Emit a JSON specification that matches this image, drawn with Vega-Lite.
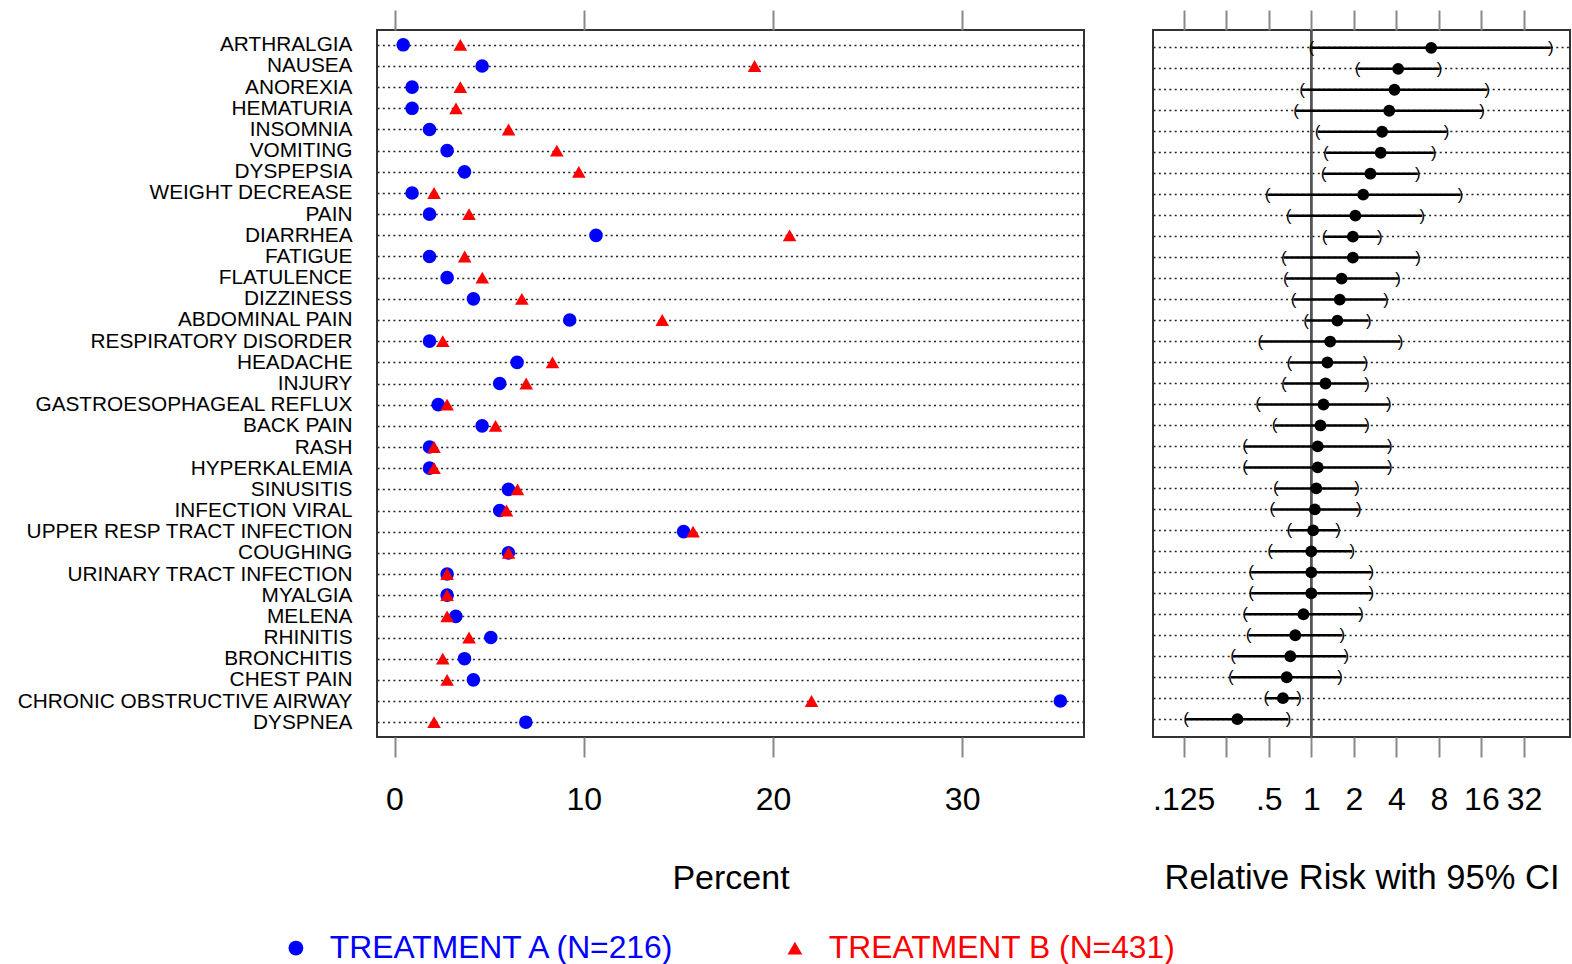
{
  "$schema": "https://vega.github.io/schema/vega-lite/v6.json",
  "padding": {"left": 15, "top": 8, "right": 1, "bottom": 0},
  "bounds": "flush",
  "spacing": 69,
  "config": {
    "font": "Liberation Sans",
    "view": {"stroke": "#333", "strokeWidth": 2},
    "axis": {
      "domain": false,
      "tickColor": "#888",
      "tickWidth": 2,
      "tickSize": 20,
      "labelColor": "black",
      "titleColor": "black",
      "labelFont": "Liberation Sans",
      "titleFont": "Liberation Sans",
      "titleFontWeight": "normal",
      "gridColor": "#222",
      "gridDash": [2, 3.3],
      "gridWidth": 1.6
    }
  },
  "datasets": {
    "ae": [
      {"event": "ARTHRALGIA", "A": 0.46, "B": 3.48, "rr": 7.06, "lo": 1.0, "hi": 49.6},
      {"event": "NAUSEA", "A": 4.63, "B": 19.03, "rr": 4.12, "lo": 2.13, "hi": 8.1},
      {"event": "ANOREXIA", "A": 0.93, "B": 3.48, "rr": 3.88, "lo": 0.86, "hi": 17.6},
      {"event": "HEMATURIA", "A": 0.93, "B": 3.25, "rr": 3.56, "lo": 0.78, "hi": 16.2},
      {"event": "INSOMNIA", "A": 1.85, "B": 6.03, "rr": 3.17, "lo": 1.11, "hi": 9.07},
      {"event": "VOMITING", "A": 2.78, "B": 8.58, "rr": 3.1, "lo": 1.27, "hi": 7.37},
      {"event": "DYSPEPSIA", "A": 3.7, "B": 9.74, "rr": 2.62, "lo": 1.22, "hi": 5.68},
      {"event": "WEIGHT DECREASE", "A": 0.93, "B": 2.09, "rr": 2.33, "lo": 0.49, "hi": 11.4},
      {"event": "PAIN", "A": 1.85, "B": 3.94, "rr": 2.05, "lo": 0.69, "hi": 6.1},
      {"event": "DIARRHEA", "A": 10.65, "B": 20.88, "rr": 1.97, "lo": 1.24, "hi": 3.05},
      {"event": "FATIGUE", "A": 1.85, "B": 3.71, "rr": 1.97, "lo": 0.64, "hi": 5.7},
      {"event": "FLATULENCE", "A": 2.78, "B": 4.64, "rr": 1.64, "lo": 0.66, "hi": 4.12},
      {"event": "DIZZINESS", "A": 4.17, "B": 6.73, "rr": 1.59, "lo": 0.75, "hi": 3.38},
      {"event": "ABDOMINAL PAIN", "A": 9.26, "B": 14.15, "rr": 1.53, "lo": 0.92, "hi": 2.55},
      {"event": "RESPIRATORY DISORDER", "A": 1.85, "B": 2.55, "rr": 1.36, "lo": 0.435, "hi": 4.28},
      {"event": "HEADACHE", "A": 6.48, "B": 8.35, "rr": 1.3, "lo": 0.7, "hi": 2.42},
      {"event": "INJURY", "A": 5.56, "B": 6.96, "rr": 1.26, "lo": 0.64, "hi": 2.48},
      {"event": "GASTROESOPHAGEAL REFLUX", "A": 2.31, "B": 2.78, "rr": 1.22, "lo": 0.42, "hi": 3.54},
      {"event": "BACK PAIN", "A": 4.63, "B": 5.34, "rr": 1.16, "lo": 0.55, "hi": 2.48},
      {"event": "RASH", "A": 1.85, "B": 2.09, "rr": 1.11, "lo": 0.34, "hi": 3.6},
      {"event": "HYPERKALEMIA", "A": 1.85, "B": 2.09, "rr": 1.11, "lo": 0.34, "hi": 3.6},
      {"event": "SINUSITIS", "A": 6.02, "B": 6.5, "rr": 1.085, "lo": 0.56, "hi": 2.11},
      {"event": "INFECTION VIRAL", "A": 5.56, "B": 5.92, "rr": 1.06, "lo": 0.53, "hi": 2.17},
      {"event": "UPPER RESP TRACT INFECTION", "A": 15.28, "B": 15.78, "rr": 1.03, "lo": 0.7, "hi": 1.55},
      {"event": "COUGHING", "A": 6.02, "B": 6.03, "rr": 1.0, "lo": 0.51, "hi": 1.95},
      {"event": "URINARY TRACT INFECTION", "A": 2.78, "B": 2.78, "rr": 1.0, "lo": 0.375, "hi": 2.66},
      {"event": "MYALGIA", "A": 2.78, "B": 2.78, "rr": 1.0, "lo": 0.375, "hi": 2.66},
      {"event": "MELENA", "A": 3.24, "B": 2.78, "rr": 0.88, "lo": 0.34, "hi": 2.25},
      {"event": "RHINITIS", "A": 5.09, "B": 3.94, "rr": 0.77, "lo": 0.36, "hi": 1.66},
      {"event": "BRONCHITIS", "A": 3.7, "B": 2.55, "rr": 0.71, "lo": 0.28, "hi": 1.77},
      {"event": "CHEST PAIN", "A": 4.17, "B": 2.78, "rr": 0.67, "lo": 0.27, "hi": 1.6},
      {"event": "CHRONIC OBSTRUCTIVE AIRWAY", "A": 35.19, "B": 22.04, "rr": 0.63, "lo": 0.48, "hi": 0.82},
      {"event": "DYSPNEA", "A": 6.94, "B": 2.09, "rr": 0.3, "lo": 0.13, "hi": 0.69}
    ]
  },
  "hconcat": [
    {
      "width": 707,
      "height": 707,
      "data": {"name": "ae"},
      "transform": [{"fold": ["A", "B"], "as": ["trt", "pct"]}],
      "layer": [
        {
          "mark": {"type": "point", "filled": true, "opacity": 1, "size": 185},
          "encoding": {
            "y": {"field": "event", "type": "nominal", "sort": null, "scale": {"padding": 0.7},
                  "axis": {"title": null, "ticks": false, "labelPadding": 25, "labelFontSize": 20.8, "labelLimit": 500, "grid": true}},
            "x": {"field": "pct", "type": "quantitative",
                  "scale": {"domain": [-0.925, 36.44], "nice": false, "zero": false},
                  "axis": {"orient": "bottom", "values": [0, 10, 20, 30], "labelFontSize": 32, "labelPadding": 27,
                           "title": "Percent", "titleFontSize": 34, "titlePadding": 46, "grid": false}},
            "color": {"field": "trt", "type": "nominal",
                      "scale": {"domain": ["A", "B"], "range": ["#0000ff", "#ff0000"]},
                      "legend": {"orient": "none", "legendX": -97, "legendY": 902, "direction": "horizontal", "title": null,
                                 "labelExpr": "datum.value == 'A' ? 'TREATMENT A (N=216)' : 'TREATMENT B (N=431)'",
                                 "labelFontSize": 31.8, "labelColor": {"expr": "datum.value == 'A' ? '#0000ff' : '#ff0000'"},
                                 "symbolSize": 220, "labelOffset": 18, "columnPadding": 102, "labelLimit": 600, "symbolStrokeWidth": 0, "padding": 0}},
            "shape": {"field": "trt", "type": "nominal",
                      "scale": {"domain": ["A", "B"], "range": ["circle", "triangle-up"]},
                      "legend": {"orient": "none", "legendX": -97, "legendY": 902, "direction": "horizontal", "title": null,
                                 "labelExpr": "datum.value == 'A' ? 'TREATMENT A (N=216)' : 'TREATMENT B (N=431)'",
                                 "labelFontSize": 31.8, "labelColor": {"expr": "datum.value == 'A' ? '#0000ff' : '#ff0000'"},
                                 "symbolSize": 220, "labelOffset": 18, "columnPadding": 102, "labelLimit": 600, "symbolStrokeWidth": 0, "padding": 0}}
          }
        },
        {
          "mark": {"type": "point", "opacity": 0},
          "encoding": {
            "y": {"field": "event", "type": "nominal", "sort": null, "scale": {"padding": 0.7},
                  "axis": {"title": null, "ticks": false, "labelPadding": 25, "labelFontSize": 20.8, "labelLimit": 500, "grid": true}},
            "x": {"field": "pct", "type": "quantitative",
                  "axis": {"orient": "top", "values": [0, 10, 20, 30], "labels": false, "title": null, "grid": false}}
          }
        }
      ],
      "resolve": {"axis": {"x": "independent"}}
    },
    {
      "width": 417,
      "height": 707,
      "data": {"name": "ae"},
      "layer": [
        {
          "mark": {"type": "rule", "color": "#555", "strokeWidth": 1.5},
          "encoding": {
            "x": {"datum": 1, "type": "quantitative",
                  "scale": {"type": "log", "base": 2, "domain": [0.0758, 67.8], "nice": false},
                  "axis": {"orient": "bottom", "values": [0.125, 0.25, 0.5, 1, 2, 4, 8, 16, 32],
                           "labelExpr": "datum.value == 0.125 ? '.125' : datum.value == 0.25 ? '' : datum.value == 0.5 ? '.5' : format(datum.value, 'd')",
                           "labelOverlap": false, "labelBound": false, "labelFlush": false,
                           "labelFontSize": 32, "labelPadding": 27,
                           "title": "Relative Risk with 95% CI", "titleFontSize": 34.5, "titlePadding": 46, "grid": false}}
          }
        },
        {
          "mark": {"type": "rule", "color": "black", "strokeWidth": 2.5},
          "encoding": {
            "y": {"field": "event", "type": "nominal", "sort": null, "scale": {"padding": 0.7},
                  "axis": {"title": null, "labels": false, "ticks": false, "grid": true}},
            "x": {"field": "lo", "type": "quantitative", "axis": null},
            "x2": {"field": "hi"}
          }
        },
        {
          "mark": {"type": "text", "text": "(", "fontSize": 17, "baseline": "middle", "align": "center", "color": "black"},
          "encoding": {
            "y": {"field": "event", "type": "nominal", "sort": null, "scale": {"padding": 0.7},
                  "axis": {"title": null, "labels": false, "ticks": false, "grid": true}},
            "x": {"field": "lo", "type": "quantitative", "axis": null}
          }
        },
        {
          "mark": {"type": "text", "text": ")", "fontSize": 17, "baseline": "middle", "align": "center", "color": "black"},
          "encoding": {
            "y": {"field": "event", "type": "nominal", "sort": null, "scale": {"padding": 0.7},
                  "axis": {"title": null, "labels": false, "ticks": false, "grid": true}},
            "x": {"field": "hi", "type": "quantitative", "axis": null}
          }
        },
        {
          "mark": {"type": "point", "filled": true, "color": "black", "opacity": 1, "size": 140},
          "encoding": {
            "y": {"field": "event", "type": "nominal", "sort": null, "scale": {"padding": 0.7},
                  "axis": {"title": null, "labels": false, "ticks": false, "grid": true}},
            "x": {"field": "rr", "type": "quantitative",
                  "axis": {"orient": "top", "values": [0.125, 0.25, 0.5, 1, 2, 4, 8, 16, 32], "labels": false, "title": null, "grid": false}}
          }
        }
      ],
      "resolve": {"axis": {"x": "independent"}}
    }
  ]
}
